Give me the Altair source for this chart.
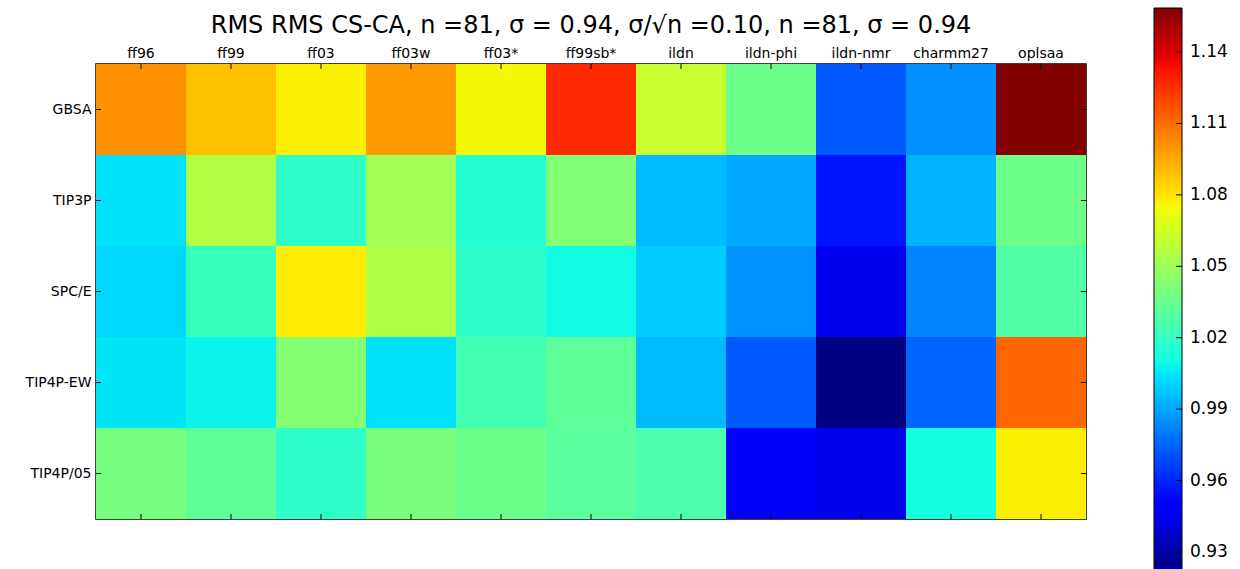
import altair as alt
import pandas as pd

force_fields = ["ff96", "ff99", "ff03", "ff03w", "ff03*", "ff99sb*", "ildn",
                "ildn-phi", "ildn-nmr", "charmm27", "oplsaa"]
water_models = ["GBSA", "TIP3P", "SPC/E", "TIP4P-EW", "TIP4P/05"]

gbsa = [1.101, 1.089, 1.077, 1.099, 1.075, 1.127, 1.062, 1.036, 0.972, 0.985, 1.158]
tip3p = [1.004, 1.056, 1.018, 1.051, 1.015, 1.042, 0.995, 0.991, 0.956, 0.993, 1.036]
spce = [1.002, 1.021, 1.078, 1.055, 1.018, 1.010, 0.999, 0.986, 0.945, 0.982, 1.028]
tip4pew = [1.005, 1.008, 1.043, 1.004, 1.024, 1.032, 0.995, 0.972, 0.922, 0.975, 1.112]
tip4p05 = [1.039, 1.032, 1.018, 1.040, 1.036, 1.031, 1.026, 0.949, 0.945, 1.011, 1.077]
rows = [gbsa, tip3p, spce, tip4pew, tip4p05]

colorbar_ticks = [0.93, 0.96, 0.99, 1.02, 1.05, 1.08, 1.11, 1.14]
vmin, vmax = 0.922, 1.1585

title_text = "RMS RMS CS-CA, n =81, σ = 0.94, σ/√n =0.10, n =81, σ = 0.94"

# jet colormap stops
jet_pos = [0.0, 0.11, 0.125, 0.34, 0.35, 0.375, 0.64, 0.66, 0.89, 0.91, 1.0]
jet_col = ["#000080", "#0000ff", "#0000ff", "#00dbff", "#00e5f7", "#14ffe2",
           "#efff08", "#ffec00", "#ff1300", "#e80000", "#800000"]
jet_dom = [vmin + p * (vmax - vmin) for p in jet_pos]

records = []
for w, vals in zip(water_models, rows):
    for f, v in zip(force_fields, vals):
        records.append({"ff": f, "water": w, "rms": v})
df = pd.DataFrame(records)
ff_df = pd.DataFrame({"ff": force_fields})
w_df = pd.DataFrame({"water": water_models})
t_df = pd.DataFrame({"t": [title_text]})
cb_df = pd.DataFrame({"v": colorbar_ticks})
one_df = pd.DataFrame({"a": [0]})

W, H = 990, 455
CB_X, CB_Y, CB_LEN, CB_W = 1058, -56, 563, 28

xdef = alt.X("ff:N", sort=force_fields,
             scale=alt.Scale(paddingInner=0, paddingOuter=0),
             axis=alt.Axis(orient="top", labelAngle=0, labelFontSize=14,
                           labelPadding=4, ticks=False, domain=False,
                           grid=False, title=None, labelColor="black"))
ydef = alt.Y("water:N", sort=water_models,
             scale=alt.Scale(paddingInner=0, paddingOuter=0),
             axis=alt.Axis(labelFontSize=14, labelPadding=5, ticks=False,
                           domain=False, grid=False, title=None,
                           labelColor="black"))

jet_scale = alt.Scale(domain=jet_dom, range=jet_col, clamp=True,
                      interpolate="rgb")

heat = alt.Chart(df).mark_rect().encode(
    x=xdef, y=ydef,
    color=alt.Color("rms:Q", scale=jet_scale, legend=None),
)

tick_top = alt.Chart(ff_df).mark_rule(color="black", strokeWidth=1).encode(
    x=xdef, y=alt.value(0), y2=alt.value(5))
tick_bot = alt.Chart(ff_df).mark_rule(color="black", strokeWidth=1).encode(
    x=xdef, y=alt.value(H), y2=alt.value(H - 5))
tick_left = alt.Chart(w_df).mark_rule(color="black", strokeWidth=1).encode(
    y=ydef, x=alt.value(0), x2=alt.value(5))
tick_right = alt.Chart(w_df).mark_rule(color="black", strokeWidth=1).encode(
    y=ydef, x=alt.value(W), x2=alt.value(W - 5))

title = alt.Chart(t_df).mark_text(
    fontSize=24, font="DejaVu Sans", color="black", align="center",
    baseline="alphabetic").encode(
    text="t:N", x=alt.value(495), y=alt.value(-31))

inner = alt.layer(heat, tick_top, tick_bot, tick_left, tick_right, title)

# colorbar
grad = alt.LinearGradient(
    gradient="linear", x1=0, y1=1, x2=0, y2=0,
    stops=[alt.GradientStop(color=c, offset=p) for p, c in zip(jet_pos, jet_col)])
cb_rect = alt.Chart(one_df).mark_rect(color=grad, stroke="black",
                                      strokeWidth=1).encode(
    x=alt.value(CB_X), x2=alt.value(CB_X + CB_W),
    y=alt.value(CB_Y), y2=alt.value(CB_Y + CB_LEN))
cb_y = alt.Y("v:Q", axis=None,
             scale=alt.Scale(domain=[vmin, vmax], range=[CB_Y + CB_LEN, CB_Y],
                             zero=False, nice=False))
cb_ticks = alt.Chart(cb_df).mark_rule(color="black", strokeWidth=1).encode(
    y=cb_y, x=alt.value(CB_X + CB_W), x2=alt.value(CB_X + CB_W - 6))
cb_labels = alt.Chart(cb_df).mark_text(
    fontSize=17, font="DejaVu Sans", color="black", align="left",
    baseline="middle").encode(
    y=cb_y, x=alt.value(CB_X + CB_W + 8),
    text=alt.Text("v:Q", format=".2f"))
cbar = alt.layer(cb_rect, cb_ticks, cb_labels)

chart = alt.layer(inner, cbar).resolve_scale(y="independent").properties(
    width=W, height=H,
    padding={"left": 96, "top": 64, "right": 1240 - 96 - W, "bottom": 569 - 64 - H},
    autosize="none",
).configure(font="DejaVu Sans").configure_view(
    stroke="black", strokeWidth=1.5
)

chart.save("out.html", embed_options={"renderer": "svg", "actions": False})
